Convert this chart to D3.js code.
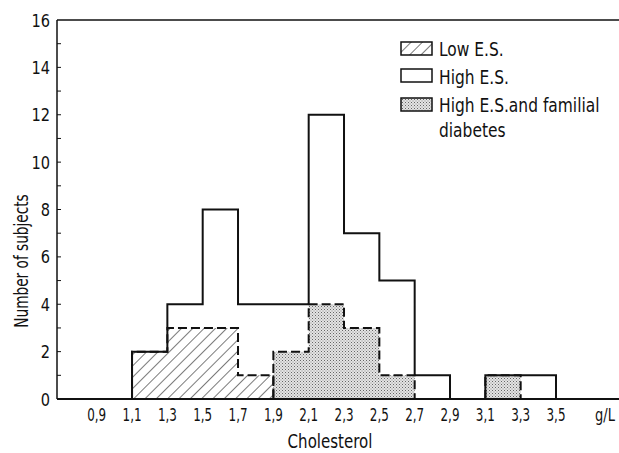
<!DOCTYPE html>
<html>
<head>
<meta charset="utf-8">
<script src="https://cdn.jsdelivr.net/npm/d3@7"></script>
<style>
html,body{margin:0;padding:0;background:#fff;}
svg{display:block;}
text{font-family:"DejaVu Sans Condensed","Liberation Sans Narrow",sans-serif;fill:#111;}
</style>
</head>
<body>
<svg id="chart" width="619" height="453"></svg>
<script>
// ---- data ----
const binStarts = [1.1, 1.3, 1.5, 1.7, 1.9, 2.1, 2.3, 2.5, 2.7, 2.9, 3.1, 3.3];
const binWidth = 0.2;
const highES = [2, 4, 8, 4, 4, 12, 7, 5, 1, 0, 1, 1];
const lowES = [2, 3, 3, 1, 0, 0, 0, 0, 0, 0, 0, 0];
const highESDiabetes = [0, 0, 0, 0, 2, 4, 3, 1, 0, 0, 1, 0];
const xTickValues = [0.9, 1.1, 1.3, 1.5, 1.7, 1.9, 2.1, 2.3, 2.5, 2.7, 2.9, 3.1, 3.3, 3.5];
const xTickLabels = ["0,9", "1,1", "1,3", "1,5", "1,7", "1,9", "2,1", "2,3", "2,5", "2,7", "2,9", "3,1", "3,3", "3,5"];
const yTickValues = [0, 2, 4, 6, 8, 10, 12, 14, 16];
const legendLabels = ["Low E.S.", "High E.S.", "High E.S.and familial", "diabetes"];

const svg = d3.select("#chart");
const defs = svg.append("defs");

// hatch pattern
const hatch = defs.append("pattern").attr("id", "hatch")
  .attr("patternUnits", "userSpaceOnUse").attr("width", 8).attr("height", 8)
  .attr("patternTransform", "rotate(45)");
hatch.append("rect").attr("width", 8).attr("height", 8).attr("fill", "#fff");
hatch.append("line").attr("x1", 0).attr("y1", 0).attr("x2", 0).attr("y2", 8)
  .attr("stroke", "#222").attr("stroke-width", 1.2);

// stipple pattern
const dots = defs.append("pattern").attr("id", "dots")
  .attr("patternUnits", "userSpaceOnUse").attr("width", 3).attr("height", 3);
dots.append("rect").attr("width", 3).attr("height", 3).attr("fill", "#e4e4e4");
dots.append("rect").attr("x", 0).attr("y", 0).attr("width", 1).attr("height", 1).attr("fill", "#666");
dots.append("rect").attr("x", 1.5).attr("y", 1.5).attr("width", 1).attr("height", 1).attr("fill", "#888");

const x = d3.scaleLinear().domain([0.9, 3.5]).range([96.7, 556]);
const y = d3.scaleLinear().domain([0, 16]).range([399, 20]);
const axisLeftX = 57, axisRightX = 619;

// condensed text helper
function ctext(parent, tx, ty, str, size, sx, anchor, rot) {
  return parent.append("text")
    .attr("transform", `translate(${tx},${ty})${rot ? ` rotate(${rot})` : ""} scale(${sx},1)`)
    .attr("text-anchor", anchor || "start")
    .attr("font-size", size)
    .text(str);
}

// step path from bin values
function stepPath(vals, close) {
  let d = "";
  let i = 0;
  while (i < vals.length) {
    if (vals[i] === 0) { i++; continue; }
    const x0 = x(binStarts[i]);
    d += `M${x0},${y(0)}`;
    while (i < vals.length && vals[i] !== 0) {
      const xa = x(binStarts[i]), xb = x(binStarts[i] + binWidth);
      d += `L${xa},${y(vals[i])}L${xb},${y(vals[i])}`;
      i++;
    }
    d += `L${x(binStarts[i - 1] + binWidth)},${y(0)}`;
    if (close) d += "Z";
  }
  return d;
}

// fills
svg.append("path").attr("d", stepPath(lowES, true)).attr("fill", "url(#hatch)").attr("stroke", "none");
svg.append("path").attr("d", stepPath(highESDiabetes, true)).attr("fill", "url(#dots)").attr("stroke", "none");
// dashed outlines
svg.append("path").attr("d", stepPath(lowES, false)).attr("fill", "none")
  .attr("stroke", "#111").attr("stroke-width", 2).attr("stroke-dasharray", "9,4");
svg.append("path").attr("d", stepPath(highESDiabetes, false)).attr("fill", "none")
  .attr("stroke", "#111").attr("stroke-width", 2).attr("stroke-dasharray", "9,4");
// solid high E.S. outline
svg.append("path").attr("d", stepPath(highES, false)).attr("fill", "none")
  .attr("stroke", "#111").attr("stroke-width", 2).attr("stroke-linejoin", "miter");

// axes frame
svg.append("line").attr("x1", axisLeftX).attr("x2", axisRightX).attr("y1", y(0)).attr("y2", y(0))
  .attr("stroke", "#111").attr("stroke-width", 2);
svg.append("line").attr("x1", axisLeftX).attr("x2", axisRightX).attr("y1", y(16)).attr("y2", y(16))
  .attr("stroke", "#111").attr("stroke-width", 1.5);
svg.append("line").attr("x1", axisLeftX).attr("x2", axisLeftX).attr("y1", y(16)).attr("y2", y(0))
  .attr("stroke", "#111").attr("stroke-width", 1.5);

// y ticks (minor every 1, inward)
const yMinor = d3.range(1, 16);
svg.selectAll(".ytick").data(yMinor).enter().append("line")
  .attr("x1", axisLeftX).attr("x2", axisLeftX + 4)
  .attr("y1", d => y(d)).attr("y2", d => y(d))
  .attr("stroke", "#111").attr("stroke-width", 1);
yTickValues.forEach(v => ctext(svg, 50, y(v) + 6.5, String(v), 18, 0.9, "end"));

// x tick labels
xTickValues.forEach((v, i) => ctext(svg, x(v), 421, xTickLabels[i], 17, 0.78, "middle"));
ctext(svg, 605, 421, "g/L", 17, 0.85, "middle");

// axis titles
ctext(svg, 330, 448, "Cholesterol", 19, 0.88, "middle");
ctext(svg, 28, 261, "Number of subjects", 19, 0.8, "middle", -90);

// legend
const lg = svg.append("g");
const swX = 401, swW = 31, swH = 13;
const rows = [
  { y: 42, fill: "url(#hatch)" },
  { y: 69, fill: "#fff" },
  { y: 98, fill: "url(#dots)" }
];
rows.forEach(r => {
  lg.append("rect").attr("x", swX).attr("y", r.y).attr("width", swW).attr("height", swH)
    .attr("fill", r.fill).attr("stroke", "#111").attr("stroke-width", 1.5);
});
const textX = 439;
[56, 84, 112, 137].forEach((by, i) => ctext(lg, textX, by, legendLabels[i], 20, 0.86, "start"));
</script>
</body>
</html>
